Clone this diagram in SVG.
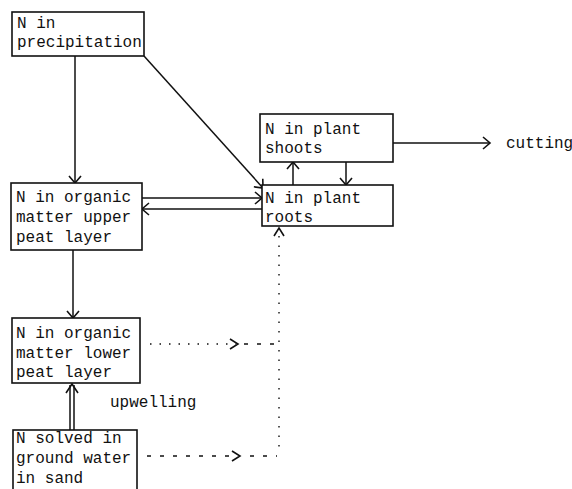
<svg xmlns="http://www.w3.org/2000/svg" width="572" height="489" viewBox="0 0 572 489">
<style>
.box{fill:#fff;stroke:#111;stroke-width:1.6}
.t{font-family:"Liberation Mono","DejaVu Sans Mono",monospace;font-size:16px;fill:#111}
.ln{stroke:#111;stroke-width:1.5;fill:none}
.dot{stroke:#111;stroke-width:1.4;fill:none;stroke-dasharray:1.5 8}
.dash{stroke:#111;stroke-width:1.4;fill:none;stroke-dasharray:4 9}
.head{stroke:#111;stroke-width:1.6;fill:none}
</style>
<defs>
<marker id="a" markerWidth="14" markerHeight="14" refX="12" refY="7" orient="auto" markerUnits="userSpaceOnUse">
<path d="M5,1 L12,7 L5,13" class="head"/>
</marker>
</defs>
<g id="connectors">
<line class="ln" x1="75" y1="56" x2="75" y2="183" marker-end="url(#a)"/>
<line class="ln" x1="144" y1="56" x2="263" y2="188" marker-end="url(#a)"/>
<line class="ln" x1="142" y1="198" x2="262" y2="198" marker-end="url(#a)"/>
<line class="ln" x1="262" y1="209" x2="142" y2="209" marker-end="url(#a)"/>
<line class="ln" x1="293" y1="185" x2="293" y2="162" marker-end="url(#a)"/>
<line class="ln" x1="346" y1="162" x2="346" y2="185" marker-end="url(#a)"/>
<line class="ln" x1="393" y1="143" x2="490" y2="143" marker-end="url(#a)"/>
<line class="ln" x1="73" y1="250" x2="73" y2="318" marker-end="url(#a)"/>
<line class="ln" x1="70" y1="430" x2="70" y2="385"/>
<line class="ln" x1="74" y1="430" x2="74" y2="385"/>
<path class="head" d="M66,393 L72,384 L78,393"/>
<line class="dot" x1="150" y1="344" x2="236" y2="344"/>
<path class="head" d="M230,339 L238,344 L230,349"/>
<line class="dash" x1="244" y1="344" x2="278" y2="344"/>
<line class="dot" x1="279" y1="236" x2="279" y2="453"/>
<path class="head" d="M274,236 L279,228 L284,236"/>
<line class="dash" x1="147" y1="456" x2="238" y2="456"/>
<path class="head" d="M232,451 L240,456 L232,461"/>
<line class="dash" x1="250" y1="456" x2="277" y2="456"/>
</g>
<g id="precipitation">
<rect class="box" x="12" y="12" width="132" height="44"/>
<text class="t" x="17" y="28">N in</text>
<text class="t" x="17" y="47">precipitation</text>
</g>
<g id="upper-peat">
<rect class="box" x="11" y="183" width="131" height="67"/>
<text class="t" x="16" y="202">N in organic</text>
<text class="t" x="16" y="222">matter upper</text>
<text class="t" x="16" y="242">peat layer</text>
</g>
<g id="shoots">
<rect class="box" x="260" y="114" width="133" height="48"/>
<text class="t" x="265" y="134">N in plant</text>
<text class="t" x="265" y="153">shoots</text>
</g>
<g id="roots">
<rect class="box" x="262" y="185" width="131" height="41"/>
<text class="t" x="265" y="203">N in plant</text>
<text class="t" x="265" y="222">roots</text>
</g>
<g id="cutting">
<text class="t" x="506" y="148">cutting</text>
</g>
<g id="lower-peat">
<rect class="box" x="12" y="318" width="128" height="65"/>
<text class="t" x="16" y="338">N in organic</text>
<text class="t" x="16" y="358">matter lower</text>
<text class="t" x="16" y="377">peat layer</text>
</g>
<g id="upwelling">
<text class="t" x="110" y="407">upwelling</text>
</g>
<g id="groundwater">
<rect class="box" x="13" y="430" width="124" height="64"/>
<text class="t" x="16" y="443">N solved in</text>
<text class="t" x="16" y="463">ground water</text>
<text class="t" x="16" y="483">in sand</text>
</g>
</svg>
